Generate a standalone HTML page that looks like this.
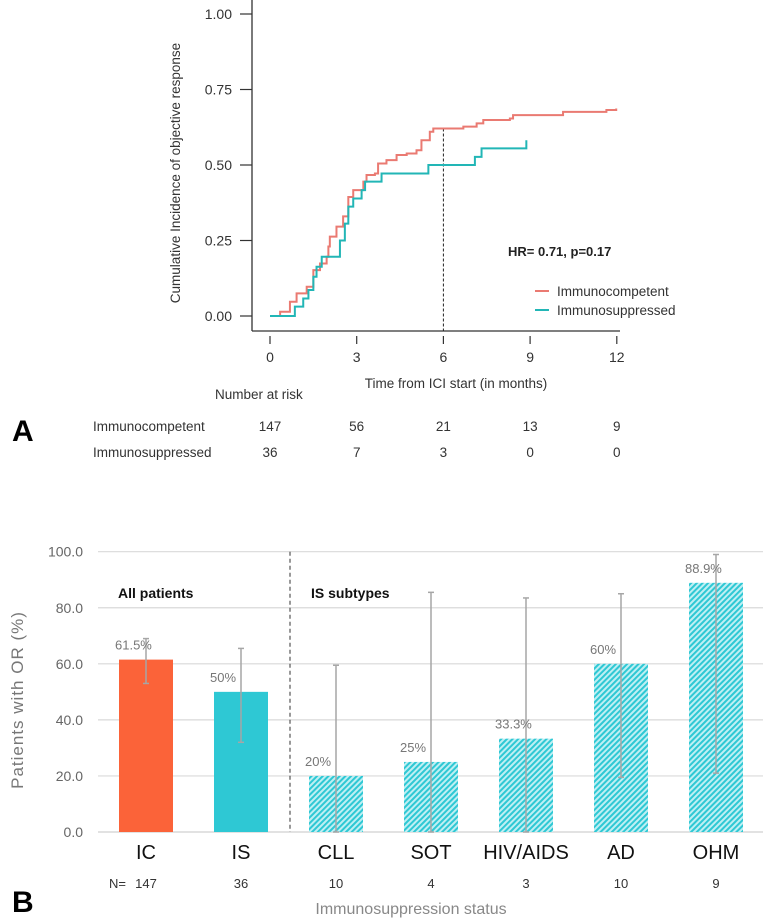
<!DOCTYPE html>
<html><head><meta charset="utf-8"><style>
body{margin:0;background:#fff;width:778px;height:923px;overflow:hidden;font-family:"Liberation Sans",sans-serif}
svg{position:absolute;left:0;top:0}
</style></head><body>
<svg width="778" height="923">
<defs><pattern id="hatch" patternUnits="userSpaceOnUse" width="4" height="4" patternTransform="rotate(45)">
<rect width="4" height="4" fill="#bfeff3"/><rect width="2" height="4" fill="#2ec8d4"/></pattern></defs>
<g id="A"></g>
<g id="B"></g>
</svg>
<script>
// ---- Panel A data ----
const icMonths=[0,0.35,0.69,0.92,1.27,1.5,1.73,1.96,2.02,2.07,2.3,2.53,2.71,2.88,3.23,3.34,3.63,3.74,4.03,4.38,4.73,5.07,5.24,5.53,5.65,6.69,7.15,7.38,8.3,8.41,9.91,10.14,11.64,11.98];
const icValues=[0,0.014,0.047,0.075,0.097,0.152,0.174,0.196,0.23,0.263,0.296,0.33,0.394,0.417,0.445,0.467,0.472,0.505,0.516,0.533,0.538,0.549,0.582,0.61,0.621,0.627,0.638,0.649,0.654,0.665,0.665,0.676,0.682,0.687];
const isMonths=[0,0.86,1.15,1.33,1.5,1.61,1.79,2.42,2.59,2.71,2.88,3.17,3.29,3.86,5.48,7.09,7.32,8.87];
const isValues=[0,0.031,0.058,0.086,0.13,0.163,0.196,0.25,0.306,0.362,0.389,0.417,0.445,0.472,0.5,0.527,0.555,0.582];
const aXTicks=[0,3,6,9,12];
const aYTicks=["0.00","0.25","0.50","0.75","1.00"];
const riskIC=[147,56,21,13,9];
const riskIS=[36,7,3,0,0];
// ---- Panel B data ----
const bCats=["IC","IS","CLL","SOT","HIV/AIDS","AD","OHM"];
const bValues=[61.5,50,20,25,33.3,60,88.9];
const bLabels=["61.5%","50%","20%","25%","33.3%","60%","88.9%"];
const bLow=[53,32,0,0,0,19.5,21];
const bHigh=[69,65.5,59.5,85.5,83.5,85,99];
const bN=["147","36","10","4","3","10","9"];
const bYTicks=[0,20,40,60,80,100];

const NS="http://www.w3.org/2000/svg";
function mk(p,t,a,txt){const e=document.createElementNS(NS,t);for(const k in a)e.setAttribute(k,a[k]);if(txt!==undefined)e.textContent=txt;p.appendChild(e);return e;}
const A=document.getElementById('A'),B=document.getElementById('B');
const ax=m=>270+m*28.9, ay=v=>316-v*302;
let e;
e=mk(A,'line',{x1:252,y1:0,x2:252,y2:331,stroke:'#333','stroke-width':1.3});

e=mk(A,'line',{x1:252,y1:331,x2:620,y2:331,stroke:'#333','stroke-width':1.3});

aYTicks.forEach((t,i)=>{const y=ay(parseFloat(t));
 mk(A,'line',{x1:240,y1:y,x2:252,y2:y,stroke:'#333','stroke-width':1.2});
 e=mk(A,'text',{x:232,y:y+5,'text-anchor':'end','font-size':14,fill:'#333'},t);
 });
aXTicks.forEach(t=>{const x=ax(t);
 mk(A,'line',{x1:x,y1:336,x2:x,y2:344,stroke:'#333','stroke-width':1.2});
 e=mk(A,'text',{x:x,y:362,'text-anchor':'middle','font-size':14,fill:'#333'},String(t));
 });
e=mk(A,'text',{x:0,y:0,transform:'translate(180,173) rotate(-90)','text-anchor':'middle','font-size':13.5,fill:'#333'},'Cumulative Incidence of objective response');

e=mk(A,'text',{x:456,y:388,'text-anchor':'middle','font-size':13.5,fill:'#333'},'Time from ICI start (in months)');

mk(A,'line',{x1:ax(6),y1:ay(0.621),x2:ax(6),y2:331,stroke:'#222','stroke-dasharray':'3,2','stroke-width':1});
function step(ms,vs){let d=`M${ax(ms[0])},${ay(vs[0])}`;for(let i=1;i<ms.length;i++){d+=` H${ax(ms[i])} V${ay(vs[i])}`;}return d;}
e=mk(A,'path',{d:step(icMonths,icValues),fill:'none',stroke:'#ea7a72','stroke-width':2});

e=mk(A,'path',{d:step(isMonths,isValues),fill:'none',stroke:'#22b6b6','stroke-width':2});

e=mk(A,'text',{x:508,y:256,'font-size':13,'font-weight':'bold',fill:'#222'},'HR= 0.71, p=0.17');

[['Immunocompetent','#ea7a72',291],['Immunosuppressed','#22b6b6',310]].forEach(([t,c,y])=>{
 const g=mk(A,'g',{});
 mk(g,'line',{x1:535,y1:y,x2:549,y2:y,stroke:c,'stroke-width':2});
 mk(g,'text',{x:557,y:y+5,'font-size':13.5,fill:'#333'},t);});
e=mk(A,'text',{x:215,y:399,'font-size':13.5,fill:'#333'},'Number at risk');

e=mk(A,'text',{x:12,y:441,'font-size':30,'font-weight':'bold',fill:'#000'},'A');

[['Immunocompetent',riskIC,431],['Immunosuppressed',riskIS,457]].forEach(([t,arr,y])=>{
 e=mk(A,'text',{x:93,y:y,'font-size':13.5,fill:'#333'},t);
 
 arr.forEach((n,i)=>{e=mk(A,'text',{x:ax(aXTicks[i]),y:y,'text-anchor':'middle','font-size':13.5,fill:'#333'},String(n));
 });});

// ---- Panel B ----
const by=v=>832-v*2.803, bx=i=>146+i*95, bw=54;
bYTicks.forEach(t=>{const y=by(t);
 e=mk(B,'line',{x1:98,y1:y,x2:763,y2:y,stroke:'#d9d9d9','stroke-width':t===0?1.5:1.2});
 
 e=mk(B,'text',{x:83,y:y+5,'text-anchor':'end','font-size':14,fill:'#666'},t.toFixed(1));
 });
mk(B,'line',{x1:290,y1:by(100),x2:290,y2:by(0),stroke:'#333','stroke-dasharray':'4,3','stroke-width':1});
bValues.forEach((v,i)=>{const x=bx(i)-bw/2;const fill=i===0?'#fb6339':(i===1?'#2ec8d4':'url(#hatch)');
 e=mk(B,'rect',{x:x,y:by(v),width:bw,height:by(0)-by(v),fill:fill});
 
 const ex=bx(i);
 const g=mk(B,'g',{stroke:'#a6a6a6','stroke-width':1.5});
 mk(g,'line',{x1:ex,y1:by(bLow[i]),x2:ex,y2:by(bHigh[i])});
 mk(g,'line',{x1:ex-3,y1:by(bLow[i]),x2:ex+3,y2:by(bLow[i])});
 mk(g,'line',{x1:ex-3,y1:by(bHigh[i]),x2:ex+3,y2:by(bHigh[i])});
 e=mk(B,'text',{x:x-4,y:by(v)-10,'font-size':13,fill:'#777'},bLabels[i]);
 
 e=mk(B,'text',{x:bx(i),y:859,'text-anchor':'middle','font-size':20,fill:'#111'},bCats[i]);
 
 e=mk(B,'text',{x:bx(i),y:888,'text-anchor':'middle','font-size':13,fill:'#333'},bN[i]);
 });
e=mk(B,'text',{x:109,y:888,'text-anchor':'start','font-size':13,fill:'#333'},'N=');

e=mk(B,'text',{x:118,y:598,'font-size':14,'font-weight':'bold',fill:'#111'},'All patients');

e=mk(B,'text',{x:311,y:598,'font-size':14,'font-weight':'bold',fill:'#111'},'IS subtypes');

e=mk(B,'text',{x:0,y:0,transform:'translate(23,700) rotate(-90)','text-anchor':'middle','font-size':17,fill:'#777','letter-spacing':'1'},'Patients with OR (%)');

e=mk(B,'text',{x:411,y:914,'text-anchor':'middle','font-size':16,fill:'#888'},'Immunosuppression status');

e=mk(B,'text',{x:12,y:912,'font-size':30,'font-weight':'bold',fill:'#000'},'B');

</script>
</body></html>
